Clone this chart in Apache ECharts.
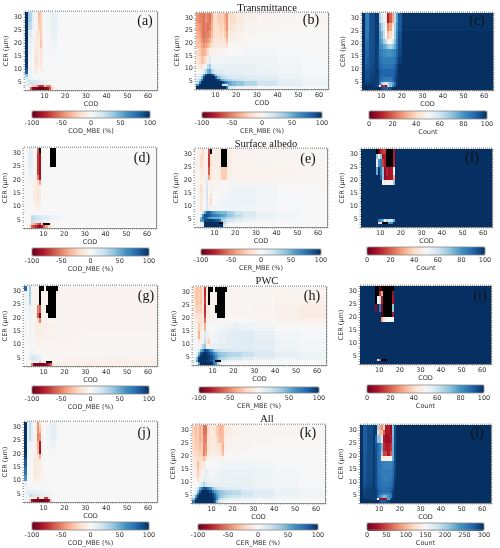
<!DOCTYPE html>
<html><head><meta charset="utf-8">
<style>html,body{margin:0;padding:0;background:#fff}#c{width:500px;height:548px;filter:blur(0.35px)}</style>
<script src="https://cdn.jsdelivr.net/npm/echarts@6/dist/echarts.min.js"></script>
</head><body><div id="c"></div>
<script>
const K = '-';
const codEdges = [0.65,2,3,4,5,6,7,8,9,10,11,12,13,14,15,16,17,18,20,24,30,40,52,64.3];
const cerEdges = [32,30,28,25,22,20,18,15,12,10,8,7,6,5,4,3,2];
const codTicks = [10,20,30,40,50,60];
const cerTicks = [5,10,15,20,25,30];
const mbeTicks = [-100,-50,0,50,100];
const countTicks = [0,20,40,60,80,100];
const countAllTicks = [0,50,100,150,200,250,300];
const titles = ['Transmittance','Surface albedo','PWC','All'];
const letters = ['(a)','(b)','(c)','(d)','(e)','(f)','(g)','(h)','(i)','(j)','(k)','(l)'];

const panelA = [
[100,35,30,10,3,-5,-30,-25,-3,0,3,3,8,10,8,3,1,0,0,0,0,0,0],
[100,35,30,10,3,-5,-30,-25,-3,0,3,3,8,10,8,3,1,0,0,0,0,0,0],
[100,30,25,8,3,-5,-25,-25,-5,0,3,3,8,10,8,3,1,0,0,0,0,0,0],
[100,15,12,5,-3,-12,-15,-25,-5,0,2,3,6,8,6,2,1,0,0,0,0,0,0],
[100,12,8,3,-5,-12,-10,-28,-5,0,2,2,4,6,5,2,0,0,0,0,0,0,0],
[100,8,6,2,-8,-10,-8,-28,-8,0,1,1,3,4,3,1,0,0,0,0,0,0,0],
[98,8,5,1,-10,-12,-6,-15,-5,0,1,1,2,2,2,0,0,0,0,0,0,0,0],
[98,6,4,0,-12,-14,-5,-12,-4,0,0,0,1,1,1,0,0,0,0,0,0,0,0],
[95,6,3,0,-10,-12,-3,-10,-3,0,0,0,0,0,0,0,0,0,0,0,0,0,0],
[85,5,3,0,-8,-5,-2,-4,-1,0,0,0,0,0,0,0,0,0,0,0,0,0,0],
[40,8,5,3,0,0,0,0,0,0,0,0,0,0,0,0,0,0,0,0,0,0,0],
[15,10,6,5,4,3,3,2,2,1,1,0,0,0,0,0,0,0,0,0,0,0,0],
[10,20,18,15,15,12,10,10,10,8,6,4,3,2,1,1,0,0,0,0,0,0,0],
[8,15,20,20,15,15,15,12,10,8,5,3,2,1,1,0,0,0,0,0,0,0,0],
[8,8,10,-25,-30,-40,-70,-75,-70,-30,-50,-50,-10,-3,0,0,0,0,0,0,0,0,0],
[5,5,-60,-90,-95,-95,-100,-100,-100,-95,-90,-60,-25,-8,-5,-3,-2,0,0,0,0,0,0]];

const panelB = [
[-45,-50,-50,-55,-45,-50,-55,-40,-20,-15,-25,-25,-25,-35,-45,-15,-20,-18,-10,-5,-3,-2,-2],
[-45,-50,-50,-55,-45,-50,-55,-40,-20,-15,-25,-25,-25,-35,-45,-15,-20,-18,-10,-5,-3,-2,-2],
[-40,-45,-50,-55,-50,-55,-50,-35,-20,-15,-20,-25,-20,-30,-45,-12,-15,-12,-8,-3,-2,-1,-1],
[-35,-40,-50,-55,-50,-50,-45,-30,-18,-15,-15,-20,-15,-25,-40,-8,-8,-8,-5,-2,-1,0,0],
[-30,-35,-45,-50,-48,-45,-35,-25,-15,-12,-12,-15,-12,-18,-30,-5,-5,-5,-3,-1,0,0,0],
[-28,-30,-40,-45,-40,-35,-25,-15,-12,-10,-10,-10,-8,-10,-15,-3,-2,-2,-1,0,0,0,0],
[-20,-25,-35,-35,-30,-20,-5,-5,-5,-3,-3,-3,-3,-3,-3,0,0,0,0,2,2,1,0],
[-15,-20,-30,-25,-15,5,15,0,3,3,3,5,5,5,5,5,5,5,6,6,4,2,1],
[-8,-10,-15,-5,5,25,35,10,8,8,8,8,8,8,8,8,8,8,8,8,5,3,1],
[0,0,-5,10,30,50,55,30,20,15,12,12,12,10,10,10,10,10,10,8,6,3,1],
[5,8,15,55,85,100,100,95,70,35,25,20,18,15,15,12,12,12,12,10,8,4,2],
[10,15,40,90,100,100,100,100,100,80,45,30,25,25,20,18,18,15,15,12,10,5,3],
[15,30,70,100,100,100,100,100,100,100,90,60,45,40,35,30,30,25,22,18,15,10,5],
[25,60,100,100,100,100,100,100,100,100,100,100,90,75,65,55,50,45,40,30,20,10,5],
[60,100,100,100,100,100,100,100,100,100,100,100,20,20,20,50,50,45,40,30,20,12,5],
[100,100,100,100,100,100,100,100,100,100,100,100,100,100,70,20,15,10,6,4,2,2,2]];

const panelC = [
[100,86,84,94,94,95,98,98,65,58,52,45,10,20,30,62,78,92,99,99,99,99,99],
[100,86,84,94,94,95,98,98,65,58,52,45,10,20,30,62,78,92,99,99,99,99,99],
[100,86,84,94,94,95,98,98,75,65,60,50,25,30,45,66,80,92,99,99,99,99,99],
[100,86,86,94,94,95,98,98,78,72,62,50,35,40,48,68,82,94,100,100,100,100,100],
[100,88,88,94,94,95,98,98,80,76,68,62,48,50,58,72,84,95,100,100,100,100,100],
[100,88,88,94,94,95,98,96,82,80,76,74,68,66,70,76,86,95,100,100,100,100,100],
[100,90,90,94,94,95,98,96,86,84,82,82,80,80,82,84,90,96,100,100,100,100,100],
[100,90,92,94,95,95,98,96,88,86,85,85,85,85,85,87,92,98,100,100,100,100,100],
[100,92,92,94,95,96,98,96,90,88,87,87,87,87,87,90,95,100,100,100,100,100,100],
[100,94,94,96,96,96,98,98,92,90,90,90,90,90,90,93,96,100,100,100,100,100,100],
[100,94,94,96,96,98,98,98,92,90,90,90,90,90,90,94,98,100,100,100,100,100,100],
[100,95,95,96,98,98,98,98,90,88,86,86,86,86,90,94,98,100,100,100,100,100,100],
[100,95,95,96,98,98,98,98,90,86,85,84,84,84,88,94,98,100,100,100,100,100,100],
[100,97,97,98,98,98,98,98,85,68,62,56,62,72,78,88,98,100,100,100,100,100,100],
[100,100,100,100,100,98,98,92,55,10,15,5,35,70,82,92,100,100,100,100,100,100,100],
[100,100,100,100,100,100,100,100,100,95,92,92,92,95,100,100,100,100,100,100,100,100,100]];

const panelD = [
[0,3,12,10,2,-3,-60,K,-3,0,0,0,K,K,K,0,0,0,0,0,0,0,0],
[0,3,12,10,2,-3,-70,-85,-3,0,0,0,K,K,K,0,0,0,0,0,0,0,0],
[0,3,12,10,2,-5,-70,-85,-3,0,0,0,K,K,K,0,0,0,0,0,0,0,0],
[0,2,8,6,-2,-6,-70,-85,-3,0,0,0,1,1,1,0,0,0,0,0,0,0,0],
[0,1,4,3,-3,-8,-50,-85,-3,0,0,0,0,0,0,0,0,0,0,0,0,0,0],
[0,0,2,2,-4,-8,-20,-40,-2,0,0,0,0,0,0,0,0,0,0,0,0,0,0],
[0,0,1,1,-8,-10,-12,-8,0,0,0,0,0,0,0,0,0,0,0,0,0,0,0],
[0,0,0,0,-8,-8,-15,-8,0,0,0,0,0,0,0,0,0,0,0,0,0,0,0],
[0,0,0,0,-4,-6,-12,-5,0,0,0,0,0,0,0,0,0,0,0,0,0,0,0],
[0,0,0,0,-2,-3,-3,-2,0,0,0,0,0,0,0,0,0,0,0,0,0,0,0],
[0,0,0,0,1,1,1,0,0,0,0,0,0,0,0,0,0,0,0,0,0,0,0],
[0,0,0,25,22,20,18,15,12,10,10,8,6,5,4,3,2,1,0,0,0,0,0],
[0,0,0,28,25,22,20,18,15,12,12,10,8,6,5,4,3,2,0,0,0,0,0],
[0,0,0,22,20,15,12,12,10,8,6,4,3,2,2,1,1,0,0,0,0,0,0],
[0,0,-10,-30,-35,-45,-60,-70,-30,K,K,K,-10,-3,0,0,0,0,0,0,0,0,0],
[0,0,-20,-60,-70,-75,-85,-90,-80,-60,-40,-20,-8,-3,0,0,0,0,0,0,0,0,0]];

const panelE = [
[-3,-5,-8,-20,-6,-5,-65,K,-6,-8,-8,-10,K,K,K,-12,-8,-5,-4,-3,-2,-2,-1],
[-3,-5,-20,-20,-6,-5,-70,-15,-6,-8,-8,-10,K,K,K,-12,-8,-5,-4,-3,-2,-2,-1],
[-3,-4,-20,-15,-5,-5,-70,-15,-6,-8,-8,-10,K,K,K,-12,-8,-5,-4,-3,-3,-2,-2],
[-2,-4,-8,-8,-5,-5,-60,-12,-6,-6,-6,-10,-25,-25,-25,-8,-6,-5,-4,-4,-4,-3,-2],
[-2,-3,-6,-6,-5,8,-40,-12,-6,-5,-5,-8,-25,-25,-25,-6,-5,-5,-4,-4,-4,-3,-2],
[-2,-3,-5,-5,-4,15,-4,-6,-4,-4,-3,-3,-3,-3,-3,-3,-3,-3,-3,-3,-3,-2,-2],
[-2,-3,-20,-8,-2,20,0,-4,-3,-2,-2,-1,0,0,0,2,3,5,5,5,3,0,0],
[0,-2,-10,-5,0,20,-2,-15,-2,0,0,1,2,3,3,4,5,6,6,6,3,1,0],
[0,0,-15,-5,0,15,-5,-20,0,1,2,3,3,4,4,4,5,5,5,5,3,1,0],
[0,0,-15,-3,2,18,4,2,3,3,3,3,3,3,3,3,4,4,4,3,2,1,0],
[0,0,0,20,50,80,85,70,60,55,50,45,45,45,45,35,35,30,20,15,6,2,0],
[0,0,15,60,90,90,85,80,70,70,65,60,55,55,50,40,40,35,25,15,8,3,0],
[0,0,45,80,85,75,60,55,50,50,50,45,40,40,35,30,30,25,20,12,6,2,0],
[0,0,55,60,90,95,95,95,95,90,85,75,40,30,25,20,18,15,10,6,3,1,0],
[0,0,5,10,100,100,100,100,100,100,100,K,K,30,15,8,5,3,1,0,0,0,0],
[0,0,3,8,100,100,100,100,100,100,100,100,100,20,8,4,2,1,0,0,0,0,0]];

const panelF = [
[100,100,100,100,100,100,100,K,-1,12,15,15,K,K,K,10,100,100,100,100,100,100,100],
[100,100,100,100,100,100,100,70,50,70,8,10,K,K,K,10,100,100,100,100,100,100,100],
[100,100,100,100,100,100,100,55,80,85,15,10,K,K,K,12,100,100,100,100,100,100,100],
[100,100,100,100,100,100,100,75,100,85,70,5,12,8,10,50,100,100,100,100,100,100,100],
[100,100,100,100,100,100,100,100,100,90,70,5,8,8,10,30,100,100,100,100,100,100,100],
[100,100,100,100,100,100,100,100,100,100,50,45,48,50,50,70,100,100,100,100,100,100,100],
[100,100,100,100,100,100,100,100,100,100,100,100,100,100,100,100,100,100,100,100,100,100,100],
[100,100,100,100,100,100,100,100,100,100,100,100,100,100,100,100,100,100,100,100,100,100,100],
[100,100,100,100,100,100,100,100,100,100,100,100,100,100,100,100,100,100,100,100,100,100,100],
[100,100,100,100,100,100,100,100,100,100,100,100,100,100,100,100,100,100,100,100,100,100,100],
[100,100,100,100,100,100,100,100,100,100,100,100,100,100,100,100,100,100,100,100,100,100,100],
[100,100,100,100,100,100,100,100,100,100,100,100,100,100,100,100,100,100,100,100,100,100,100],
[100,100,100,100,100,100,100,100,100,100,100,100,100,100,100,100,100,100,100,100,100,100,100],
[100,100,100,100,100,100,100,100,85,80,75,55,65,60,60,75,100,100,100,100,100,100,100],
[100,100,100,100,100,100,100,100,35,55,K,K,K,80,80,100,100,100,100,100,100,100,100],
[100,100,100,100,100,100,100,100,100,100,100,100,100,100,100,100,100,100,100,100,100,100,100]];

const panelG = [
[80,5,35,5,-3,-3,-5,K,K,-3,K,K,K,K,K,K,-3,-3,-3,-3,-3,-3,-3],
[5,5,35,5,-3,-3,-5,K,-3,-3,-3,K,K,K,K,-3,-3,-3,-3,-3,-3,-3,-3],
[3,3,30,5,-3,-3,-5,K,-3,-3,-3,K,K,K,K,-3,-3,-3,-3,-3,-3,-3,-3],
[2,2,8,4,-3,-5,-50,-60,-3,-3,K,K,K,K,K,-3,-3,-3,-3,-3,-3,-3,-3],
[1,1,6,3,-3,-5,-60,-90,-4,-3,-3,K,K,K,K,-3,-3,-3,-3,-3,-3,-3,-3],
[0,0,5,2,-3,-5,-20,-50,-5,-4,-4,-4,-4,-4,-4,-4,-3,-3,-3,-3,-3,-3,-3],
[0,0,4,2,-3,-6,-8,-8,-6,-5,-5,-5,-5,-5,-4,-4,-3,-3,-3,-3,-3,-3,-3],
[0,0,3,3,-2,-6,-7,-6,-5,-5,-5,-5,-4,-4,-4,-3,-3,-3,-3,-3,-2,-2,-2],
[0,0,2,2,-1,-4,-5,-5,-4,-4,-4,-4,-3,-3,-3,-3,-3,-3,-3,-2,-2,-2,-2],
[0,0,2,2,0,-2,-3,-3,-3,-3,-3,-3,-3,-3,-3,-3,-3,-3,-3,-2,-2,-2,-2],
[0,0,2,3,3,2,1,0,-2,-2,-2,-2,-2,-2,-2,-2,-2,-2,-2,-2,-2,-2,-2],
[0,0,5,8,6,5,5,3,0,-2,-2,-2,-2,-2,-2,-2,-2,-2,-2,-2,-2,-2,-2],
[0,0,8,18,15,12,10,8,4,0,-2,-2,-2,-2,-2,-2,-2,-2,-2,-2,-2,-2,-3],
[0,0,5,20,18,12,12,10,5,0,-2,-2,-2,-2,-2,-2,-2,-3,-3,-3,-3,-4,-4],
[0,0,2,4,8,-5,-5,-30,-10,-5,K,K,K,-5,-4,-4,-4,-4,-4,-4,-5,-6,-6],
[0,0,-5,-50,-90,-95,-95,-95,-95,-90,-85,-75,-60,-15,-8,-8,-8,-8,-7,-7,-7,-7,-7]];

const panelH = [
[-20,-30,-25,-30,-15,-75,-10,K,K,-3,K,K,K,K,K,K,-3,-3,-2,-2,-2,-3,-3],
[-20,-30,-25,-30,-15,-75,-10,K,-3,-3,-3,K,K,K,K,-3,-3,-3,-2,-2,-2,-3,-3],
[-18,-30,-25,-30,-15,-70,-10,K,-5,-5,-5,K,K,K,K,-5,-3,-3,-2,-2,-2,-4,-5],
[-15,-25,-22,-25,-12,-75,-8,-10,-4,-4,K,K,K,K,K,-5,-3,-3,-2,-2,-3,-5,-8],
[-10,-15,-15,-15,-10,-70,-6,-8,-4,-4,-4,K,K,K,K,-4,-3,-2,-2,-2,-3,-6,-8],
[-8,-10,-15,-15,-12,-55,-5,-4,-3,-3,-3,-3,-3,-3,-3,-2,-1,-1,-1,0,-2,-4,-5],
[-5,-6,-25,-12,-8,-35,2,0,0,1,2,2,3,3,3,4,6,6,8,6,3,0,0],
[-2,-4,-35,-8,-4,15,8,-6,2,4,6,6,8,8,8,8,10,10,12,12,8,3,1],
[0,-2,-10,-3,5,25,-15,-25,3,4,6,6,8,8,8,8,10,10,12,12,10,5,2],
[0,0,-2,10,30,40,-5,-5,8,8,8,8,10,10,10,10,10,10,12,12,10,5,2],
[0,3,15,50,65,90,85,75,55,35,28,25,22,20,20,18,16,15,15,15,12,6,3],
[0,8,45,85,95,100,95,90,80,65,55,45,40,38,35,35,32,30,28,22,15,8,5],
[0,15,70,95,100,100,95,95,90,75,60,50,45,40,40,35,30,30,28,22,16,10,6],
[5,45,95,100,100,100,100,95,90,75,60,45,35,30,28,25,22,20,18,12,8,5,5],
[15,55,100,100,100,100,95,95,85,65,K,K,K,15,12,8,6,5,4,2,1,1,0],
[5,10,60,100,100,100,100,100,100,75,60,30,15,5,3,2,1,0,0,0,0,0,0]];

const panelI = [
[100,100,100,100,100,100,100,K,K,-20,K,K,K,K,K,K,100,100,100,100,100,100,100],
[100,100,100,100,100,100,100,K,K,15,30,K,K,K,K,8,100,100,100,100,100,100,100],
[100,100,100,100,100,100,100,K,50,60,10,K,K,K,K,10,100,100,100,100,100,100,100],
[100,100,100,100,100,100,100,5,100,85,5,K,K,K,K,70,100,100,100,100,100,100,100],
[100,100,100,100,100,100,100,100,100,100,0,K,K,K,K,10,100,100,100,100,100,100,100],
[100,100,100,100,100,100,100,100,100,100,30,45,48,50,50,50,100,100,100,100,100,100,100],
[100,100,100,100,100,100,100,100,100,100,100,100,100,100,100,100,100,100,100,100,100,100,100],
[100,100,100,100,100,100,100,100,100,100,100,100,100,100,100,100,100,100,100,100,100,100,100],
[100,100,100,100,100,100,100,100,100,100,100,100,100,100,100,100,100,100,100,100,100,100,100],
[100,100,100,100,100,100,100,100,100,100,100,100,100,100,100,100,100,100,100,100,100,100,100],
[100,100,100,100,100,100,100,100,100,100,100,100,100,100,100,100,100,100,100,100,100,100,100],
[100,100,100,100,100,100,100,100,100,100,100,100,100,100,100,100,100,100,100,100,100,100,100],
[100,100,100,100,100,100,100,100,100,100,100,100,100,100,100,100,100,100,100,100,100,100,100],
[100,100,100,100,100,100,100,100,100,100,100,100,100,100,100,100,100,100,100,100,100,100,100],
[100,100,100,100,100,100,100,100,60,20,K,K,K,100,100,100,100,100,100,100,100,100,100],
[100,100,100,100,100,100,100,100,100,100,100,100,100,100,100,100,100,100,100,100,100,100,100]];

const panelJ = [
[100,8,25,10,2,-5,-45,-20,-3,0,3,3,8,10,10,3,0,0,0,0,0,0,0],
[100,8,25,10,2,-5,-45,-30,-3,0,3,3,8,10,10,3,0,0,0,0,0,0,0],
[100,8,25,10,2,-5,-50,-45,-3,0,3,3,8,10,10,3,0,0,0,0,0,0,0],
[100,6,8,4,-2,-6,-35,-80,-4,0,2,2,4,6,5,1,0,0,0,0,0,0,0],
[100,4,6,3,-3,-6,-30,-85,-4,0,1,1,2,3,2,0,0,0,0,0,0,0,0],
[95,3,4,1,-5,-8,-12,-35,-3,0,0,0,1,1,1,0,0,0,0,0,0,0,0],
[85,2,2,0,-8,-10,-10,-8,-3,0,0,0,0,0,0,0,0,0,0,0,0,0,0],
[75,2,2,0,-8,-10,-8,-8,-3,-1,-1,0,0,0,0,0,0,0,0,0,0,0,0],
[60,2,1,0,-6,-8,-5,-6,-3,-2,-1,0,0,0,0,0,0,0,0,0,0,0,0],
[10,2,1,0,-3,-3,-3,-3,-2,-1,-1,0,0,0,0,0,0,0,0,0,0,0,0],
[3,4,3,3,1,0,0,0,0,0,0,0,0,0,0,0,0,0,0,0,0,0,0],
[3,6,6,5,4,3,3,2,2,1,1,0,0,0,0,0,0,0,0,0,0,0,0],
[3,10,10,10,8,8,8,8,6,5,4,3,2,1,1,0,0,0,0,0,0,0,0],
[3,5,25,22,18,15,15,12,10,8,5,3,2,1,0,0,0,0,0,0,0,0,0],
[3,3,5,-5,-8,-15,-70,-20,-8,-70,-70,-10,-3,0,0,0,0,0,0,0,0,0,0],
[3,3,-30,-85,-95,-95,-95,-100,-100,-95,-95,-85,-25,-5,-3,-2,0,0,0,0,0,0,0]];

const panelK = [
[-25,-30,-25,-35,-30,-55,-55,-20,-12,-10,-15,-25,-30,-35,-30,-10,-10,-8,-5,-3,-2,-2,-1],
[-25,-30,-25,-35,-30,-55,-55,-20,-12,-10,-15,-25,-30,-35,-30,-10,-10,-8,-5,-3,-2,-2,-1],
[-22,-28,-25,-35,-30,-50,-50,-18,-12,-10,-12,-20,-28,-32,-30,-8,-6,-5,-4,-2,-2,-1,-1],
[-20,-25,-25,-30,-25,-50,-45,-15,-10,-8,-10,-12,-15,-20,-35,-6,-4,-3,-2,-2,-1,-1,0],
[-15,-20,-22,-25,-25,-50,-40,-12,-8,-6,-6,-8,-10,-15,-30,-4,-2,-2,-2,-1,-1,0,0],
[-10,-15,-18,-20,-20,-30,-20,-6,-4,-3,-3,-3,-3,-3,-5,-1,0,0,0,0,0,0,0],
[-8,-10,-30,-18,-12,-10,5,0,0,0,1,1,2,4,5,5,5,5,5,5,3,1,0],
[-4,-8,-25,-10,-5,5,10,-8,2,2,3,4,5,6,7,7,7,7,7,7,4,2,0],
[0,-2,-15,-4,4,15,10,-5,4,5,5,6,6,7,7,7,7,7,8,8,5,3,1],
[0,0,0,10,20,30,20,12,10,10,8,8,8,8,8,8,8,8,8,8,6,3,1],
[0,5,20,50,70,88,88,78,60,40,30,25,20,18,15,12,12,12,12,10,8,4,2],
[0,10,40,80,100,100,100,98,90,70,55,48,42,40,35,32,30,28,25,18,12,6,3],
[5,20,65,100,100,100,100,100,100,92,72,55,45,40,38,35,32,30,28,20,15,8,4],
[15,55,95,100,100,100,100,100,100,95,80,60,45,38,32,28,25,22,20,15,10,5,3],
[40,90,100,100,100,100,100,100,100,100,85,60,35,25,20,15,12,10,8,5,3,2,1],
[70,100,100,100,100,100,100,100,100,100,80,45,20,12,8,5,3,2,1,1,0,0,0]];

const panelL = [
[300,275,275,285,285,285,295,295,200,95,75,120,25,30,15,215,285,300,300,300,300,300,300],
[300,275,275,285,285,285,295,295,180,100,105,60,25,30,20,215,285,300,300,300,300,300,300],
[300,275,275,285,285,285,295,270,210,210,170,30,20,20,30,220,285,300,300,300,300,300,300],
[300,275,275,285,285,285,295,280,270,255,220,40,30,30,40,225,285,300,300,300,300,300,300],
[300,275,278,285,285,285,295,285,265,255,200,45,50,30,60,225,285,300,300,300,300,300,300],
[300,275,278,285,285,285,295,285,265,255,140,135,140,145,145,225,285,300,300,300,300,300,300],
[300,278,280,285,285,285,295,285,265,260,255,250,250,250,250,260,285,300,300,300,300,300,300],
[300,278,280,285,285,285,295,285,265,260,255,255,255,255,255,265,290,300,300,300,300,300,300],
[300,280,282,285,285,288,295,285,270,260,260,255,255,255,260,270,295,300,300,300,300,300,300],
[300,280,285,288,288,290,295,285,270,265,260,260,260,260,265,275,298,300,300,300,300,300,300],
[300,285,288,290,290,292,295,290,275,265,265,265,265,265,270,280,300,300,300,300,300,300,300],
[300,285,290,292,292,292,295,292,280,270,265,265,265,265,275,290,300,300,300,300,300,300,300],
[300,288,292,292,292,292,295,292,275,260,255,250,250,250,265,290,300,300,300,300,300,300,300],
[300,292,292,292,292,292,295,292,270,245,230,215,220,240,255,292,300,300,300,300,300,300,300],
[300,295,295,295,295,295,292,285,160,30,20,15,25,230,285,300,300,300,300,300,300,300,300],
[300,300,300,300,300,300,300,300,300,285,275,275,280,290,300,300,300,300,300,300,300,300,300]];

const matrices = [panelA,panelB,panelC,panelD,panelE,panelF,panelG,panelH,panelI,panelJ,panelK,panelL];
const RdBu = ['#67001f','#b2182b','#d6604d','#f4a582','#fddbc7','#f7f7f7','#d1e5f0','#92c5de','#4393c3','#2166ac','#053061'];

// [plot left, right, top, bottom, bar left, right, top, bottom]
const frames = [
[25,157,12,90, 32,150,111,118],[196,328,13,89, 202,322,112,118],[362,493,13,90, 369,487,111,119],
[24,156,148,228, 32,149,248,256],[195,327,149,227, 201,321,249,255],[361,492,149,227, 367,485,247,255],
[24,157,286,366, 32,149,386,394],[193,326,287,365, 199,319,387,393],[360,491,286,364, 367,484,385,393],
[24,157,422,502, 32,149,522,530],[192,325,425,503, 198,318,524,530],[360,491,425,503, 367,484,523,531]];
const letterPos = [[145,22],[311,21],[477,22],[142,159],[308,160],[472,159],[146,297],[312,297],[480,297],[144,434],[308,434],[477,434]];
const titlePos = [[267,3],[266,139],[267,276],[267,414]];

const font = 'DejaVu Sans', ink = '#333', edge = '#999', fs = 6.5;
const range = (a,b) => { const o=[]; for(let v=a;v<=b;v++) o.push(v); return o; };
const grid=[], xAxis=[], yAxis=[], series=[], visualMap=[];
const title = [];
titles.forEach((t,i)=>title.push({text:t,left:titlePos[i][0],top:titlePos[i][1],textAlign:'center',padding:0,
  textStyle:{fontFamily:'Liberation Serif',fontSize:10.5,fontWeight:'normal',color:'#111'}}));
letters.forEach((t,i)=>title.push({text:t,left:letterPos[i][0],top:letterPos[i][1]-8,textAlign:'center',padding:0,
  textStyle:{fontFamily:'Liberation Serif',fontSize:14,fontWeight:'normal',color:'#111'}}));

const codFine = range(1,64), cerFine = range(2,32);
frames.forEach((f,i)=>{
  const col = i%3, isCount = col===2, isAll = i===11;
  const g = grid.length;
  grid.push({left:f[0],width:f[1]-f[0],top:f[2],height:f[3]-f[2]});
  const xb = xAxis.length, yb = yAxis.length;
  const xCommon = {type:'value',gridIndex:g,min:codEdges[0],max:codEdges[codEdges.length-1],splitLine:{show:false},
    axisLine:{show:true,onZero:false,lineStyle:{color:edge,width:1}}};
  const yCommon = {type:'value',gridIndex:g,min:2,max:32,splitLine:{show:false},
    axisLine:{show:true,onZero:false,lineStyle:{color:edge,width:1}}};
  const tick = v=>({show:true,length:1.5,lineStyle:{color:'#777',width:0.7},customValues:v});
  xAxis.push({...xCommon,position:'bottom',name:'COD',nameLocation:'middle',nameGap:10,
    nameTextStyle:{fontFamily:font,fontSize:fs,color:ink},
    axisTick:tick(codFine),axisLabel:{fontFamily:font,fontSize:fs,color:ink,margin:3,customValues:codTicks}});
  xAxis.push({...xCommon,position:'top',axisTick:tick(codFine),axisLabel:{show:false}});
  yAxis.push({...yCommon,position:'left',name:'CER (μm)',nameLocation:'middle',nameGap:13,
    nameTextStyle:{fontFamily:font,fontSize:fs,color:ink},
    axisTick:tick(cerFine),axisLabel:{fontFamily:font,fontSize:fs,color:ink,margin:3,customValues:cerTicks}});
  yAxis.push({...yCommon,position:'right',axisTick:tick(cerFine),axisLabel:{show:false}});

  const m = matrices[i], data=[];
  m.forEach((row,r)=>row.forEach((v,c)=>data.push([codEdges[c],codEdges[c+1],cerEdges[r],cerEdges[r+1],v])));
  const sIdx = series.length;
  series.push({type:'custom',xAxisIndex:xb,yAxisIndex:yb,coordinateSystem:'cartesian2d',clip:true,silent:true,z:1,
    encode:{x:[0,1],y:[2,3]},dimensions:['x0','x1','y0','y1','v'],data,
    renderItem:(p,api)=>{
      const a=api.coord([api.value(0),api.value(2)]), b=api.coord([api.value(1),api.value(3)]);
      const v=api.value(4);
      const x0=Math.round(a[0]), y0=Math.round(a[1]);
      return {type:'rect',shape:{x:x0,y:y0,width:Math.round(b[0])-x0,height:Math.round(b[1])-y0},
        style:{fill:isNaN(v)?'#000':api.visual('color')}};
    }});
  const ticks = isAll?countAllTicks:isCount?countTicks:mbeTicks;
  const lo=ticks[0], hi=ticks[ticks.length-1];
  visualMap.push({type:'continuous',seriesIndex:sIdx,dimension:4,min:lo,max:hi,orient:'horizontal',
    left:f[4],top:f[6],itemWidth:f[7]-f[6],itemHeight:f[5]-f[4],padding:0,calculable:false,hoverLink:false,
    text:null,inRange:{color:RdBu},outOfRange:{color:'#000'},borderWidth:0});
  // colour bar scale
  const gb = grid.length;
  grid.push({left:f[4],width:f[5]-f[4],top:f[6],height:f[7]-f[6],show:true,z:6,
    backgroundColor:'transparent',borderColor:'#888',borderWidth:0.8});
  xAxis.push({type:'value',gridIndex:gb,min:lo,max:hi,interval:ticks[1]-ticks[0],position:'bottom',
    name:isCount?'Count':(col===0?'COD_MBE (%)':'CER_MBE (%)'),nameLocation:'middle',nameGap:10,
    nameTextStyle:{fontFamily:font,fontSize:fs,color:ink},splitLine:{show:false},
    axisLine:{show:false},axisTick:{show:false},
    axisLabel:{fontFamily:font,fontSize:fs,color:ink,margin:2,showMinLabel:true,showMaxLabel:true}});
  yAxis.push({type:'value',gridIndex:gb,show:false,min:0,max:1});
});

const chart = echarts.init(document.getElementById('c'),null,{renderer:'canvas'});
chart.setOption({animation:false,backgroundColor:'#fff',title,grid,xAxis,yAxis,visualMap,series});
</script>
</body></html>
